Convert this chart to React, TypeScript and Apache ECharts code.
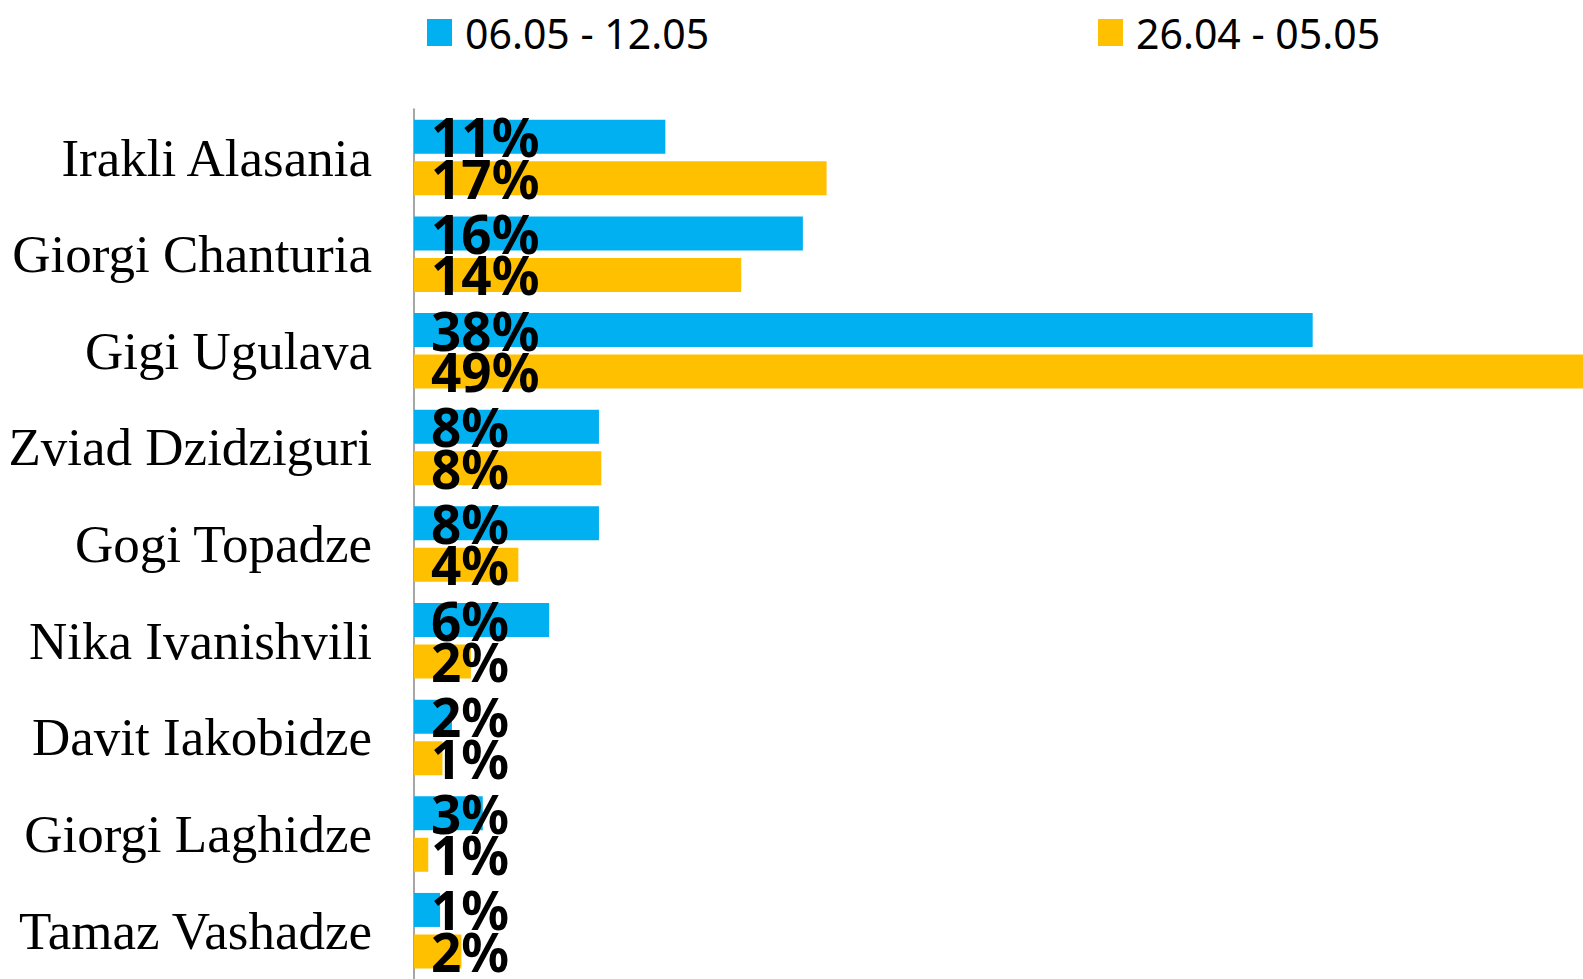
import React, { useEffect, useRef } from "react";
import * as echarts from "echarts";

const categories = [
  "Irakli Alasania",
  "Giorgi Chanturia",
  "Gigi Ugulava",
  "Zviad Dzidziguri",
  "Gogi Topadze",
  "Nika Ivanishvili",
  "Davit Iakobidze",
  "Giorgi Laghidze",
  "Tamaz Vashadze",
];

const seriesNames = ["06.05 - 12.05", "26.04 - 05.05"];
const blueValues = [10.6, 16.4, 37.9, 7.8, 7.8, 5.7, 1.6, 2.9, 1.1];
const orangeValues = [17.4, 13.8, 49.3, 7.9, 4.4, 2.4, 1.2, 0.6, 2.0];
const colors = ["#00B0F0", "#FFC000"];

export default function App() {
  const ref = useRef<HTMLDivElement>(null);

  useEffect(() => {
    if (!ref.current) return;
    const chart = echarts.init(ref.current, undefined, { renderer: "svg" });

    const labelCfg = {
      show: true,
      position: [17, "50%"],
      align: "left",
      verticalAlign: "middle",
      color: "#000",
      fontFamily: "Noto Sans",
      fontWeight: "bold",
      fontSize: 53,
      formatter: (p: any) => Math.round(p.value) + "%",
    };

    const legendText = {
      color: "#000",
      fontFamily: "Noto Sans",
      fontSize: 41,
      padding: [0, 0, 0, 8],
    };

    chart.setOption({
      animation: false,
      backgroundColor: "#fff",
      legend: [
        {
          data: [seriesNames[0]],
          left: 427,
          top: 12,
          padding: 0,
          itemWidth: 25,
          itemHeight: 27,
          textStyle: legendText,
          icon: "rect",
          selectedMode: false,
        },
        {
          data: [seriesNames[1]],
          left: 1098,
          top: 12,
          padding: 0,
          itemWidth: 25,
          itemHeight: 27,
          textStyle: legendText,
          icon: "rect",
          selectedMode: false,
        },
      ],
      grid: {
        left: 414,
        top: 109.2,
        width: 1169,
        height: 874.8,
        containLabel: false,
      },
      xAxis: {
        type: "value",
        min: 0,
        max: 49.3,
        show: false,
      },
      yAxis: {
        type: "category",
        data: categories,
        inverse: true,
        axisLine: { show: true, lineStyle: { color: "#A6A6A6", width: 2 } },
        axisTick: { show: false },
        splitLine: { show: false },
        axisLabel: {
          margin: 42,
          color: "#000",
          fontFamily: "Liberation Serif",
          fontSize: 53,
        },
      },
      series: [
        {
          name: seriesNames[0],
          type: "bar",
          data: blueValues,
          barWidth: 34,
          barGap: "22%",
          itemStyle: { color: colors[0] },
          label: labelCfg,
        },
        {
          name: seriesNames[1],
          type: "bar",
          data: orangeValues,
          barWidth: 34,
          barGap: "22%",
          itemStyle: { color: colors[1] },
          label: labelCfg,
        },
      ],
    });

    return () => chart.dispose();
  }, []);

  return (
    <div
      ref={ref}
      style={{ position: "fixed", left: 0, top: 0, width: 1583, height: 979 }}
    />
  );
}
